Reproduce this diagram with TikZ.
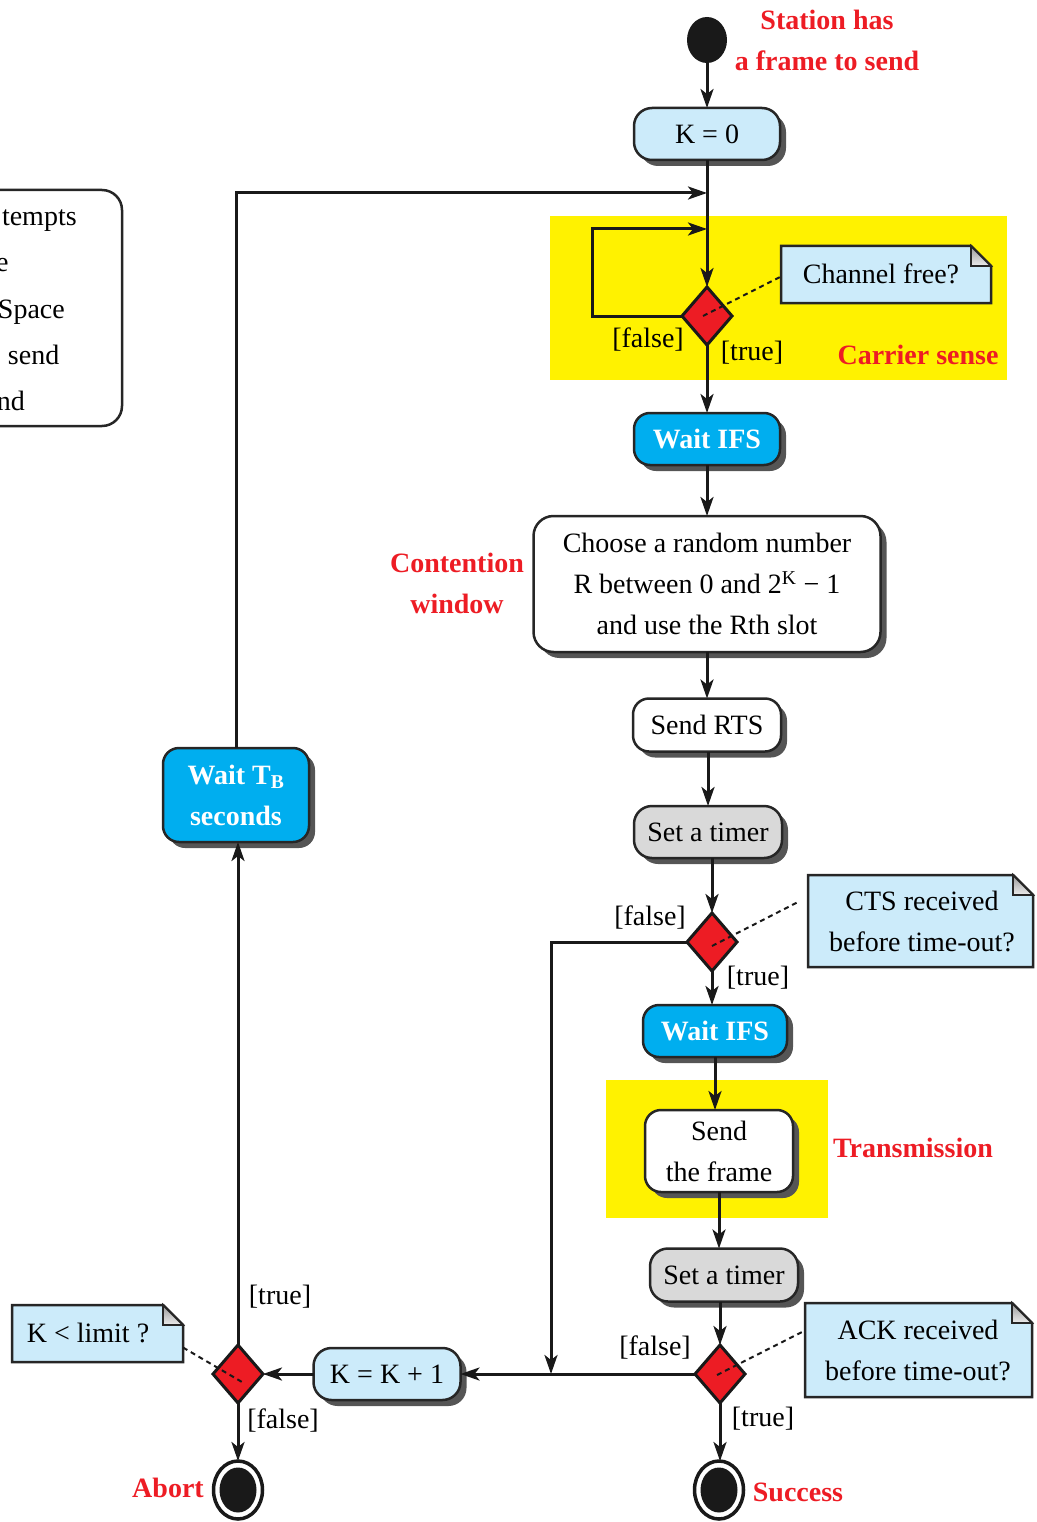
\documentclass[tikz,border=0pt]{standalone}
\usepackage{fontspec}
\setmainfont{Liberation Serif}
\usetikzlibrary{shapes.geometric,arrows.meta,shadows,calc,backgrounds}
\definecolor{lblue}{HTML}{CCEBFA}
\definecolor{cyanb}{HTML}{00AEEF}
\definecolor{redd}{HTML}{ED1C24}
\definecolor{yel}{HTML}{FFF200}
\definecolor{grayb}{HTML}{D9D9D9}
\definecolor{shad}{HTML}{555555}
\begin{document}
\begin{tikzpicture}[x=1pt,y=-1pt,
 every node/.style={font=\fontsize{28}{41}\selectfont, inner sep=0pt, outer sep=0pt},
 sh/.style={drop shadow={shadow xshift=6pt,shadow yshift=-6pt,fill=shad,opacity=1}},
 box/.style={draw=black!85, line width=2.5pt, rounded corners=16pt, align=center, sh},
 lbox/.style={box, fill=lblue},
 cbox/.style={box, fill=cyanb, text=white, font=\fontsize{28}{41}\selectfont\bfseries},
 wbox/.style={box, fill=white},
 gbox/.style={box, fill=grayb},
 dec/.style={shape=diamond, draw=black!90, fill=redd, line width=3pt, minimum width=50pt, minimum height=58pt},
 arr/.style={line width=3pt, draw=black!90, -{Stealth[length=19pt,width=13pt,inset=5pt]}},
 dsh/.style={line width=2pt, draw=black!90, dash pattern=on 5pt off 4pt},
 rlab/.style={text=redd, font=\fontsize{28}{41}\selectfont\bfseries, align=center},
 notebg/.style={fill=lblue, draw=black!85, line width=2.5pt},
 fold/.style={top color=gray!80, bottom color=gray!15, draw=black!85, line width=1.8pt},
 endo/.style={shape=ellipse, draw=black!90, line width=3.5pt, fill=white, minimum width=49pt, minimum height=58pt},
 endi/.style={shape=ellipse, fill=black!90, minimum width=37pt, minimum height=45pt}
]
\useasboundingbox (0,0) rectangle (1036,1522);

% yellow regions
\fill[yel] (550,216) rectangle (1007,380);
\fill[yel] (606,1080) rectangle (828,1218);

% legend box (cut off)
\node[draw=black!85, line width=2.5pt, rounded corners=20pt, minimum width=172pt, minimum height=236pt] (legend) at (36,308) {};
\node[anchor=base west] (lg1) at (2,226) {tempts};
\node[anchor=base west] (lg2) at (-4,272) {e};
\node[anchor=base west] (lg3) at (-2,318) {Space};
\node[anchor=base west] (lg4) at (8,364) {send};
\node[anchor=base west] (lg5) at (-3,410) {nd};

% main flow
\node[shape=ellipse, fill=black!90, minimum width=40pt, minimum height=46pt] (start) at (707,40) {};
\node[rlab] (stlab) at (827,40) {Station has\\a frame to send};
\node[lbox, rounded corners=18pt, minimum width=146pt, minimum height=52pt] (k0) at (707,134) {K = 0};
\coordinate (j1) at (707,193);
\coordinate (j2) at (707,229);
\node[dec] (d1) at (707,316) {};
\node[cbox, minimum width=146pt, minimum height=52pt] (wifs1) at (707,439) {Wait IFS};
\node[wbox, rounded corners=20pt, minimum width=347pt, minimum height=136pt] (choose) at (707,584) {Choose a random number\\R between 0 and 2\textsuperscript{K} − 1\\and use the Rth slot};
\node[wbox, minimum width=148pt, minimum height=53pt] (rts) at (707,725) {Send RTS};
\node[gbox, rounded corners=18pt, minimum width=148pt, minimum height=52pt] (timer1) at (708,832) {Set a timer};
\node[dec] (d2) at (712,942) {};
\node[cbox, minimum width=144pt, minimum height=52pt] (wifs2) at (715,1031) {Wait IFS};
\node[wbox, minimum width=148pt, minimum height=82pt] (frame) at (719,1151) {Send\\the frame};
\node[gbox, rounded corners=18pt, minimum width=148pt, minimum height=53pt] (timer2) at (724,1275) {Set a timer};
\node[dec] (d3) at (720,1374) {};
\node[endo] (succ) at (719,1490) {};
\node[endi] (succi) at (succ.center) {};
\node[lbox, rounded corners=18pt, minimum width=147pt, minimum height=52pt] (kk) at (387,1374) {K = K + 1};
\node[dec] (d4) at (238,1374) {};
\node[endo] (abort) at (238,1490) {};
\node[endi] (aborti) at (abort.center) {};
\node[cbox, minimum width=146pt, minimum height=94pt] (wtb) at (236,795) {Wait T\textsubscript{B}\\seconds};

% notes
\node[minimum width=210pt, minimum height=57pt] (n1) at (886,274.5) {};
\node[minimum width=225pt, minimum height=92pt] (n2) at (920.5,921) {};
\node[minimum width=227pt, minimum height=94pt] (n3) at (918.5,1350) {};
\node[minimum width=171pt, minimum height=57pt] (n4) at (97.5,1333.5) {};
\foreach \n in {n1,n2,n3,n4}{
  \path[notebg] (\n.north west) -- ([xshift=-20pt]\n.north east) -- ([yshift=-20pt]\n.north east) -- (\n.south east) -- (\n.south west) -- cycle;
  \path[fold] ([xshift=-20pt]\n.north east) -- ([xshift=-20pt,yshift=-20pt]\n.north east) -- ([yshift=-20pt]\n.north east) -- cycle;
}
\node (n1t) at (881,274) {Channel free?};
\node[align=center] (n2t) at (922,921) {CTS received\\before time-out?};
\node[align=center] (n3t) at (918,1350) {ACK received\\before time-out?};
\node (n4t) at (88,1333) {K < limit ?};

% labels
\node (f1) at (648,340) {[false]};
\node (t1) at (752,353) {[true]};
\node[rlab] (cs) at (918,355) {Carrier sense};
\node[rlab] (cw) at (457,583) {Contention\\window};
\node (f2) at (650,918) {[false]};
\node (t2) at (758,978) {[true]};
\node[rlab] (tr) at (913,1148) {Transmission};
\node (f3) at (655,1347) {[false]};
\node (t3) at (763,1419) {[true]};
\node (t4) at (280,1297) {[true]};
\node (f4) at (283,1420) {[false]};
\node[rlab] (ab) at (168,1488) {Abort};
\node[rlab] (sc) at (798,1492) {Success};

% connectors
\draw[arr] (start.south) -- (k0.north);
\draw[arr] (k0.south) -- (d1.north);
\draw[arr] (wtb.north) |- (j1);
\draw[arr] (d1.west) -- ++(-90,0) |- (j2);
\draw[arr] (d1.south) -- (wifs1.north);
\draw[arr] (wifs1.south) -- (choose.north);
\draw[arr] (choose.south) -- (rts.north);
\draw[arr] (rts.south -| timer1.north) -- (timer1.north);
\draw[arr] (d2.north |- timer1.south) -- (d2.north);
\draw[arr] (d2.south) -- (d2.south |- wifs2.north);
\draw[arr] (wifs2.south) -- (wifs2.south |- frame.north);
\draw[arr] (frame.south) -- (frame.south |- timer2.north);
\draw[arr] (d3.north |- timer2.south) -- (d3.north);
\draw[arr] (d3.south) -- (d3.south |- succ.north);
\coordinate (j3) at (551,1374);
\draw[arr] (d2.west) -| (j3);
\draw[arr] (d3.west) -- (kk.east);
\draw[arr] (kk.west) -- (d4.east);
\draw[arr] (d4.north) -- (d4.north |- wtb.south);
\draw[arr] (d4.south) -- (abort.north);

% dashed note links
\draw[dsh] ($(d1.center)+(-4,0)$) -- ($(n1.west)+(0,2)$);
\draw[dsh] ($(d2.center)+(0,4)$) -- ($(n2.west)+(-10,-19)$);
\draw[dsh] ($(d3.center)+(-3,1)$) -- ($(n3.west)+(-3,-18)$);
\draw[dsh] ($(n4.east)+(0,14)$) -- ($(d4.center)+(4,8)$);
\end{tikzpicture}
\end{document}
